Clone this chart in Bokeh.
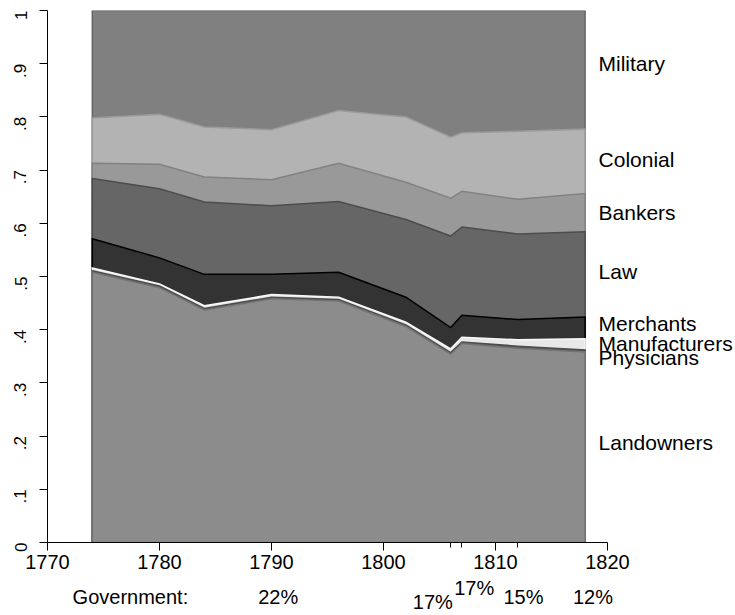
import numpy as np
from bokeh.plotting import figure
from bokeh.models import Range1d, FixedTicker
from bokeh.layouts import column
from bokeh.core.properties import value
from bokeh.embed import file_html
from bokeh.resources import INLINE

# ---------------- data ----------------
years = [1774, 1780, 1784, 1790, 1796, 1802, 1806, 1807, 1812, 1818]

landowners    = [0.508, 0.479, 0.437, 0.458, 0.454, 0.406, 0.354, 0.374, 0.365, 0.358]
physicians    = [0.003, 0.003, 0.003, 0.003, 0.003, 0.003, 0.003, 0.003, 0.004, 0.004]
manufacturers = [0.005, 0.004, 0.005, 0.005, 0.004, 0.005, 0.007, 0.009, 0.012, 0.021]
merchants     = [0.055, 0.049, 0.059, 0.038, 0.047, 0.047, 0.040, 0.041, 0.038, 0.041]
law           = [0.113, 0.130, 0.136, 0.129, 0.133, 0.146, 0.172, 0.166, 0.161, 0.160]
bankers       = [0.029, 0.046, 0.047, 0.049, 0.072, 0.070, 0.071, 0.067, 0.065, 0.072]
colonial      = [0.085, 0.094, 0.094, 0.094, 0.099, 0.123, 0.115, 0.110, 0.128, 0.121]
military      = [0.202, 0.195, 0.219, 0.224, 0.188, 0.200, 0.238, 0.230, 0.227, 0.223]

categories = ["Landowners", "Physicians", "Manufacturers", "Merchants",
              "Law", "Bankers", "Colonial", "Military"]
series = [landowners, physicians, manufacturers, merchants,
          law, bankers, colonial, military]

gov_labels = ["Government:", "22%", "17%", "17%", "15%", "12%"]

x_ticks = [1770, 1780, 1790, 1800, 1810, 1820]
x_minor_ticks = [1806, 1807, 1812]
y_ticks = [0, 0.1, 0.2, 0.3, 0.4, 0.5, 0.6, 0.7, 0.8, 0.9, 1]
y_tick_labels = ["0", ".1", ".2", ".3", ".4", ".5", ".6", ".7", ".8", ".9", "1"]

# ---------------- styles / layout ----------------
fills    = ["#8c8c8c", "#5a5a5a", "#e8e8e8", "#333333",
            "#666666", "#999999", "#b3b3b3", "#808080"]
outlines = ["#737373", "#4d4d4d", "#f8f8f8", "#000000",
            "#4d4d4d", "#828282", "#9a9a9a", "#666666"]
label_pos_y = [0.188, 0.348, 0.374, 0.411, 0.510, 0.620, 0.720, 0.900]
label_pos_x = 1819.2
gov_pos_x = [1777.4, 1790.6, 1804.4, 1808.1, 1812.5, 1818.7]
gov_pos_y = [25, 25, 30, 16, 25, 25]   # pixels from top of the strip

PX_PER_YEAR = 11.2
LEFT = 47
FRAME_W = 735 - LEFT
FONT = "Liberation Sans"

x_range = Range1d(1770, 1770 + FRAME_W / PX_PER_YEAR)

p = figure(frame_width=FRAME_W, frame_height=532,
           x_range=x_range, y_range=Range1d(0, 1),
           output_backend="svg", toolbar_location=None,
           min_border_left=LEFT, min_border_right=0,
           min_border_top=10, min_border_bottom=0)
p.grid.visible = False
p.outline_line_color = None
p.background_fill_color = "white"
p.border_fill_color = "white"

# stacked areas drawn Stata-style: cumulative, tallest first
cum = np.cumsum(np.array(series), axis=0)
xs = list(years) + list(years[::-1])
for i in range(len(series) - 1, -1, -1):
    ys = list(cum[i]) + [0.0] * len(years)
    p.patch(xs, ys, fill_color=fills[i], line_color=outlines[i],
            line_width=1.5, line_join="miter")

# category labels at right
p.text(x=[label_pos_x] * len(categories), y=label_pos_y, text=categories,
       text_font=value(FONT), text_font_size="21px",
       text_align="left", text_baseline="middle", text_color="black")

# axes
xa = p.xaxis[0]
xa.ticker = FixedTicker(ticks=x_ticks, minor_ticks=x_minor_ticks)
xa.bounds = (1770, 1820)
xa.major_tick_out = 8
xa.major_tick_in = 0
xa.minor_tick_out = 5
xa.minor_tick_in = 0
xa.major_label_standoff = 4
xa.major_label_text_font = FONT
xa.major_label_text_font_size = "20px"
xa.major_label_text_color = "black"
xa.axis_line_color = "black"
xa.major_tick_line_color = "black"
xa.minor_tick_line_color = "black"
xa.major_label_overrides = {t: str(t) for t in x_ticks}

ya = p.yaxis[0]
ya.ticker = FixedTicker(ticks=y_ticks, minor_ticks=[])
ya.bounds = (0, 1)
ya.major_tick_out = 8
ya.major_tick_in = 0
ya.minor_tick_out = 0
ya.minor_tick_in = 0
ya.major_label_standoff = 19
ya.major_label_orientation = np.pi / 2
ya.major_label_text_font = FONT
ya.major_label_text_font_size = "17px"
ya.major_label_text_color = "black"
ya.axis_line_color = "black"
ya.major_tick_line_color = "black"
ya.major_label_overrides = dict(zip(y_ticks, y_tick_labels))

# government strip underneath, sharing the x scale
p2 = figure(frame_width=FRAME_W, frame_height=43,
            x_range=x_range, y_range=Range1d(43, 0),
            x_axis_location=None, y_axis_location=None,
            output_backend="svg", toolbar_location=None,
            min_border_left=LEFT, min_border_right=0,
            min_border_top=0, min_border_bottom=0)
p2.grid.visible = False
p2.outline_line_color = None
p2.text(x=gov_pos_x, y=gov_pos_y, text=gov_labels,
        text_font=value(FONT), text_font_size="20px",
        text_align="center", text_baseline="middle", text_color="black")

layout = column(p, p2, spacing=0)

open("out.html", "w").write(file_html(layout, INLINE))
